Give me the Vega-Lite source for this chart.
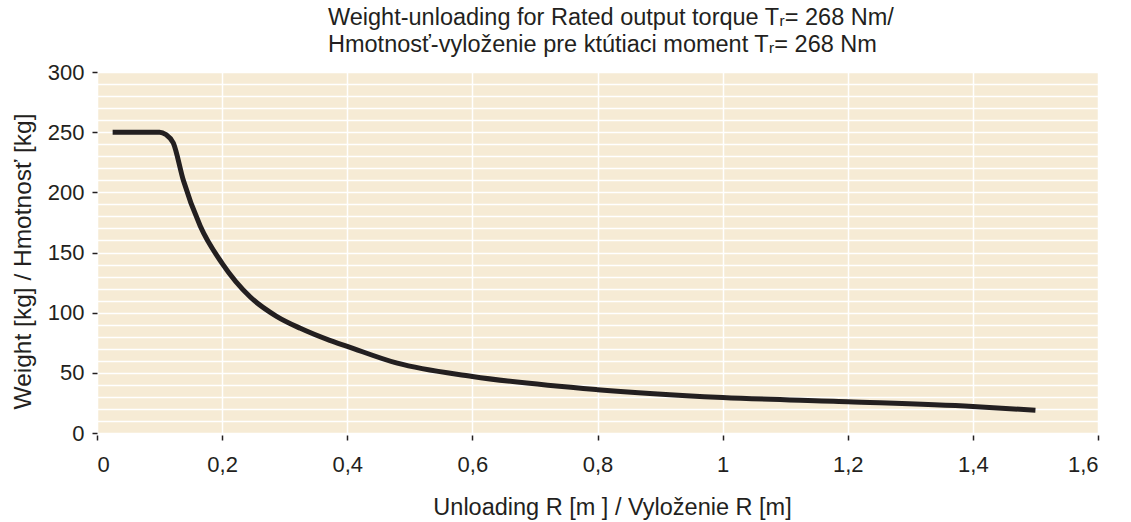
{
  "$schema": "https://vega.github.io/schema/vega-lite/v6.json",
  "autosize": "none",
  "width": 1001,
  "height": 361,
  "padding": {"left": 97, "top": 72, "right": 33, "bottom": 89},
  "background": "white",
  "config": {
    "font": "Liberation Sans",
    "view": {"fill": "#f6ebd5", "stroke": null},
    "axis": {"labelColor": "#231f20", "titleColor": "#231f20", "tickColor": "#231f20", "labelFont": "Liberation Sans", "titleFont": "Liberation Sans", "titleFontWeight": "normal"}
  },
  "title": {
    "text": ["Weight-unloading for Rated output torque Tᵣ= 268 Nm/", "Hmotnosť-vyloženie pre ktútiaci moment Tᵣ= 268 Nm"],
    "anchor": "start",
    "frame": "group",
    "dx": 231,
    "offset": 5,
    "fontSize": 23.5,
    "fontWeight": "normal",
    "font": "Liberation Sans",
    "color": "#231f20",
    "lineHeight": 27
  },
  "data": {
    "values": [
      {"R": 0.025, "W": 250},
      {"R": 0.1, "W": 250},
      {"R": 0.11, "W": 248},
      {"R": 0.122, "W": 241},
      {"R": 0.138, "W": 210},
      {"R": 0.165, "W": 172},
      {"R": 0.2, "W": 141},
      {"R": 0.245, "W": 113},
      {"R": 0.287, "W": 97},
      {"R": 0.325, "W": 87},
      {"R": 0.372, "W": 77},
      {"R": 0.4, "W": 72},
      {"R": 0.48, "W": 58},
      {"R": 0.6, "W": 47},
      {"R": 0.8, "W": 36},
      {"R": 1.0, "W": 29.5},
      {"R": 1.2, "W": 26},
      {"R": 1.4, "W": 22},
      {"R": 1.5, "W": 19}
    ]
  },
  "mark": {"type": "line", "color": "#231f20", "strokeWidth": 5, "interpolate": "monotone", "strokeCap": "butt", "strokeJoin": "round"},
  "encoding": {
    "x": {
      "field": "R", "type": "quantitative",
      "scale": {"domain": [0, 1.6], "nice": false, "zero": false},
      "axis": {
        "title": "Unloading R [m ] / Vyloženie R [m]",
        "values": [0, 0.2, 0.4, 0.6, 0.8, 1, 1.2, 1.4, 1.6],
        "labelExpr": "replace(format(datum.value, '~g'), '.', ',')",
        "grid": true, "gridColor": "white", "gridWidth": 1.5, "gridOpacity": 1,
        "domain": false, "tickSize": 5, "tickWidth": 1.5, "offset": 2,
        "labelFontSize": 22, "labelPadding": 14,
        "titleFontSize": 23.5, "titlePadding": 20, "titleX": 515
      }
    },
    "y": {
      "field": "W", "type": "quantitative",
      "scale": {"domain": [0, 300], "nice": false},
      "axis": {
        "title": "Weight [kg] / Hmotnosť [kg]",
        "values": [0, 10, 20, 30, 40, 50, 60, 70, 80, 90, 100, 110, 120, 130, 140, 150, 160, 170, 180, 190, 200, 210, 220, 230, 240, 250, 260, 270, 280, 290, 300],
        "labelExpr": "datum.value % 50 === 0 ? datum.label : ''",
        "tickOpacity": {"condition": {"test": "datum.value % 50 === 0", "value": 1}, "value": 0},
        "grid": true, "gridColor": "white", "gridWidth": 1.5, "gridOpacity": 1,
        "domain": false, "tickSize": 5, "tickWidth": 1.5,
        "labelFontSize": 22, "labelPadding": 8,
        "titleFontSize": 24.5, "titlePadding": 12, "titleY": 189
      }
    }
  }
}
